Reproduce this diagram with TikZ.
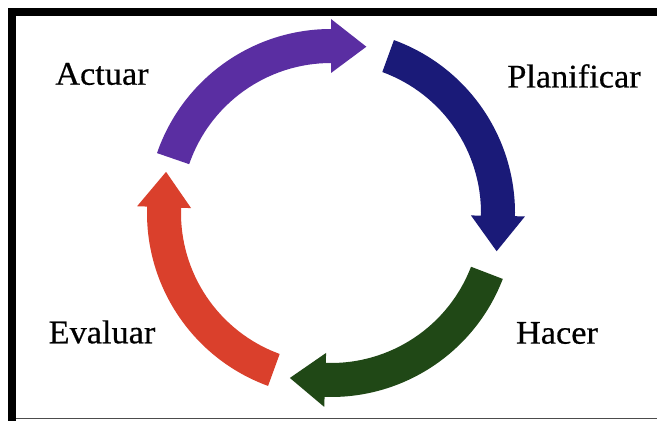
\documentclass[tikz,border=0pt]{standalone}
\usepackage{fontspec}
\setmainfont{Liberation Serif}
\newfontfamily\lblfont{Liberation Serif}[FakeBold=0.5]
\definecolor{cpurple}{RGB}{90,46,162}
\definecolor{cblue}{RGB}{26,26,120}
\definecolor{cgreen}{RGB}{32,72,22}
\definecolor{cred}{RGB}{218,64,44}
\newcommand{\cyclearrow}[3]{%
  % #1 colour, #2 tail angle, #3 tip angle (clockwise: tail > tip)
  \pgfmathsetmacro{\hb}{#3+12}%
  \fill[#1] (#2:184) arc[start angle=#2, end angle=\hb, radius=184]
    -- (\hb:194) -- (#3:170) -- (\hb:140) -- (\hb:150)
    arc[start angle=\hb, end angle=#2, radius=150] -- cycle;}
\tikzset{lbl/.style={font=\lblfont\fontsize{33}{35}\selectfont, inner sep=0pt, xscale=1.04}}
\begin{document}
\begin{tikzpicture}[x=1pt,y=1pt]
\useasboundingbox (0,0) rectangle (657,421);
\fill[white] (0,0) rectangle (657,421);
% frame
\fill[black] (8,0) rectangle (16,413);
\fill[black] (8,405) rectangle (657,413);
\draw[black!70, line width=1pt] (16,2) -- (657,2);
% cycle arrows
\begin{scope}[shift={(331,208)}]
\cyclearrow{cpurple}{161}{78}
\cyclearrow{cblue}{70}{-13}
\cyclearrow{cgreen}{-21}{-104}
\cyclearrow{cred}{250}{166}
\end{scope}
% labels
\node[lbl] (actuar) at (102,347) {Actuar};
\node[lbl] (planificar) at (574,345) {Planificar};
\node[lbl] (evaluar) at (102,89) {Evaluar};
\node[lbl] (hacer) at (557,88) {Hacer};
\end{tikzpicture}
\end{document}
